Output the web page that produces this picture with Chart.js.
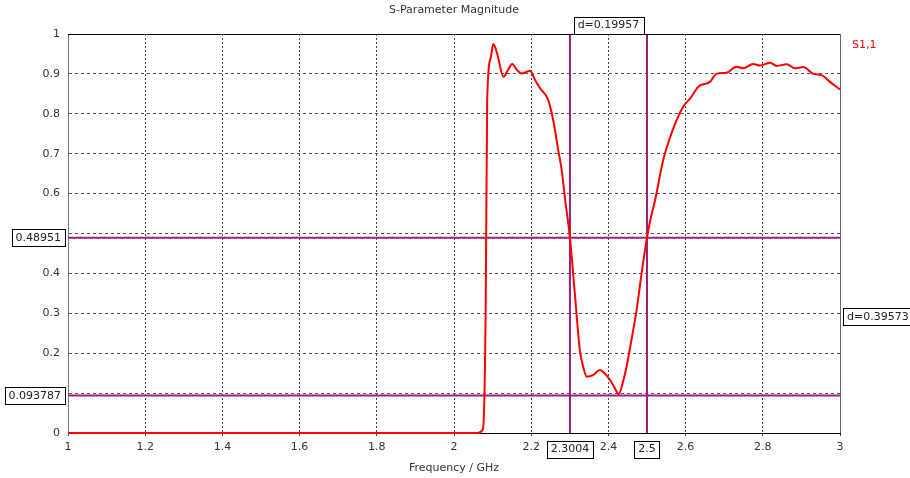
<!DOCTYPE html>
<html lang="en">
  <head>
    <title>S-Parameter Magnitude</title>
    <script src="https://cdn.jsdelivr.net/npm/chart.js@4.4.1/dist/chart.umd.min.js"></script>
    <style>
      body{
        margin: 0;
        background-color: #ffffff;
      }
      #wrap{
        width: 910px;
        height: 478px;
      }
    </style>
  </head>
  <body>
    <div id="wrap">
      <canvas id="sparamChart" width="910" height="478"></canvas>
    </div>

<script>
// S1,1 magnitude
const freq = [1.0, 2.06, 2.075, 2.082, 2.086, 2.095, 2.102, 2.112, 2.128, 2.14, 2.151, 2.163, 2.175, 2.188, 2.197,
  2.21, 2.223, 2.244, 2.257, 2.27, 2.279, 2.288, 2.3004, 2.313, 2.326, 2.335, 2.344, 2.36, 2.378, 2.392, 2.404,
  2.415, 2.427, 2.437, 2.447, 2.46, 2.473, 2.486, 2.5, 2.51, 2.521, 2.542, 2.565, 2.594, 2.613, 2.633, 2.663,
  2.68, 2.706, 2.732, 2.749, 2.775, 2.793, 2.819, 2.836, 2.862, 2.883, 2.905, 2.931, 2.952, 2.974, 3.0];
const mag = [0, 0, 0.01, 0.3, 0.835, 0.94, 0.975, 0.95, 0.893, 0.91, 0.925, 0.91, 0.901, 0.905, 0.908,
  0.885, 0.864, 0.835, 0.784, 0.709, 0.659, 0.584, 0.4895, 0.35, 0.208, 0.165, 0.141, 0.145, 0.158, 0.148, 0.133,
  0.115, 0.098, 0.125, 0.166, 0.235, 0.308, 0.4, 0.4895, 0.54, 0.584, 0.684, 0.755, 0.818, 0.84, 0.868, 0.88,
  0.9, 0.903, 0.918, 0.914, 0.925, 0.921, 0.928, 0.92, 0.924, 0.914, 0.917, 0.9, 0.897, 0.88, 0.861];

const xTickValues = [1, 1.2, 1.4, 1.6, 1.8, 2, 2.2, 2.4, 2.6, 2.8, 3];
const yTickValues = [0, 0.1, 0.2, 0.3, 0.4, 0.5, 0.6, 0.7, 0.8, 0.9, 1];

// markers
const markerFreqs = [2.3004, 2.5];
const markerFreqLabels = ["2.3004", "2.5"];
const markerLevels = [0.48951, 0.093787];
const markerLevelLabels = ["0.48951", "0.093787"];
const deltaFreqLabel = "d=0.19957";
const deltaLevelLabel = "d=0.39573";

const FONT = "11px 'DejaVu Sans', sans-serif";
const MARKER_COLOR = "#9c1f7e";

function boxText(ctx, text, x, y, align) {
  ctx.font = FONT;
  const w = ctx.measureText(text).width + 8;
  const h = 17;
  let left = x - w / 2;
  if (align === "right") left = x - w;
  if (align === "left") left = x;
  ctx.fillStyle = "#fff";
  ctx.fillRect(left, y - h / 2, w, h);
  ctx.strokeStyle = "#000";
  ctx.lineWidth = 1;
  ctx.strokeRect(Math.round(left) + 0.5, Math.round(y - h / 2) + 0.5, Math.round(w), h);
  ctx.fillStyle = "#222";
  ctx.textAlign = "center";
  ctx.textBaseline = "middle";
  ctx.fillText(text, left + w / 2, y + 0.5);
}

const markerPlugin = {
  id: "markers",
  beforeDatasetsDraw(chart) {
    const ctx = chart.ctx;
    const a = chart.chartArea;
    const xs = chart.scales.x, ys = chart.scales.y;
    ctx.save();
    ctx.strokeStyle = MARKER_COLOR;
    ctx.lineWidth = 2;
    markerFreqs.forEach(f => {
      const px = xs.getPixelForValue(f);
      ctx.beginPath();
      ctx.moveTo(px, a.top);
      ctx.lineTo(px, a.bottom);
      ctx.stroke();
    });
    markerLevels.forEach(v => {
      const py = ys.getPixelForValue(v);
      ctx.beginPath();
      ctx.moveTo(a.left, py);
      ctx.lineTo(a.right, py);
      ctx.stroke();
    });
    ctx.restore();
  },
  afterDraw(chart) {
    const ctx = chart.ctx;
    const a = chart.chartArea;
    const xs = chart.scales.x, ys = chart.scales.y;
    ctx.save();
    // frame
    ctx.lineWidth = 1;
    ctx.strokeStyle = "#000";
    ctx.beginPath();
    ctx.moveTo(a.left, a.top + 0.5);
    ctx.lineTo(a.right, a.top + 0.5);
    ctx.stroke();
    ctx.strokeStyle = "#666";
    ctx.beginPath();
    ctx.moveTo(a.right + 0.5, a.top);
    ctx.lineTo(a.right + 0.5, a.bottom);
    ctx.stroke();

    // titles
    ctx.font = FONT;
    ctx.fillStyle = "#333";
    ctx.textAlign = "center";
    ctx.textBaseline = "middle";
    ctx.fillText("S-Parameter Magnitude", (a.left + a.right) / 2, 10);
    ctx.fillText("Frequency / GHz", (a.left + a.right) / 2, 468);
    ctx.fillStyle = "#ff0000";
    ctx.textAlign = "left";
    ctx.fillText("S1,1", 852, 45);

    // marker labels
    const fx = markerFreqs.map(f => xs.getPixelForValue(f));
    const ly = markerLevels.map(v => ys.getPixelForValue(v));
    markerFreqLabels.forEach((t, i) => boxText(ctx, t, fx[i], 449, "center"));
    markerLevelLabels.forEach((t, i) => boxText(ctx, t, a.left - 3, ly[i], "right"));
    boxText(ctx, deltaFreqLabel, (fx[0] + fx[1]) / 2, a.top - 9, "center");
    boxText(ctx, deltaLevelLabel, a.right + 3, (ly[0] + ly[1]) / 2, "left");
    ctx.restore();
  }
};

// tick labels hidden where a marker box sits on the axis
const nearMarker = v => markerLevels.some(m => Math.abs(m - v) < 0.02);

const ctx = document.getElementById("sparamChart").getContext("2d");
const sparamChart = new Chart(ctx, {
  type: "line",
  data: {
    datasets: [{
      label: "S1,1",
      data: freq.map((f, i) => ({x: f, y: mag[i]})),
      borderColor: "#ff0000",
      borderWidth: 2,
      pointRadius: 0,
      cubicInterpolationMode: "monotone",
      clip: 3
    }]
  },
  options: {
    responsive: false,
    animation: false,
    layout: {
      padding: {left: 0, right: 70, top: 34, bottom: 0}
    },
    plugins: {
      legend: {display: false},
      tooltip: {enabled: false}
    },
    scales: {
      x: {
        type: "linear",
        min: 1,
        max: 3,
        afterBuildTicks: s => { s.ticks = xTickValues.map(v => ({value: v})); },
        afterFit: s => { s.height = 45; },
        ticks: {
          font: {family: "'DejaVu Sans', sans-serif", size: 11},
          color: "#333",
          padding: 5,
          maxRotation: 0,
          autoSkip: false,
          callback: v => String(Math.round(v * 10) / 10)
        },
        grid: {
          color: "#444",
          drawTicks: true,
          tickLength: 3
        },
        border: {color: "#000", width: 1, dash: [2, 2]}
      },
      y: {
        type: "linear",
        min: 0,
        max: 1,
        afterBuildTicks: s => { s.ticks = yTickValues.map(v => ({value: v})); },
        afterFit: s => { s.width = 68; },
        ticks: {
          font: {family: "'DejaVu Sans', sans-serif", size: 11},
          color: "#333",
          padding: 8,
          autoSkip: false,
          callback: v => nearMarker(v) ? "" : String(Math.round(v * 10) / 10)
        },
        grid: {
          color: "#555",
          drawTicks: false
        },
        border: {color: "#777", width: 1, dash: [3, 3]}
      }
    }
  },
  plugins: [markerPlugin]
});
</script>
  </body>
</html>
